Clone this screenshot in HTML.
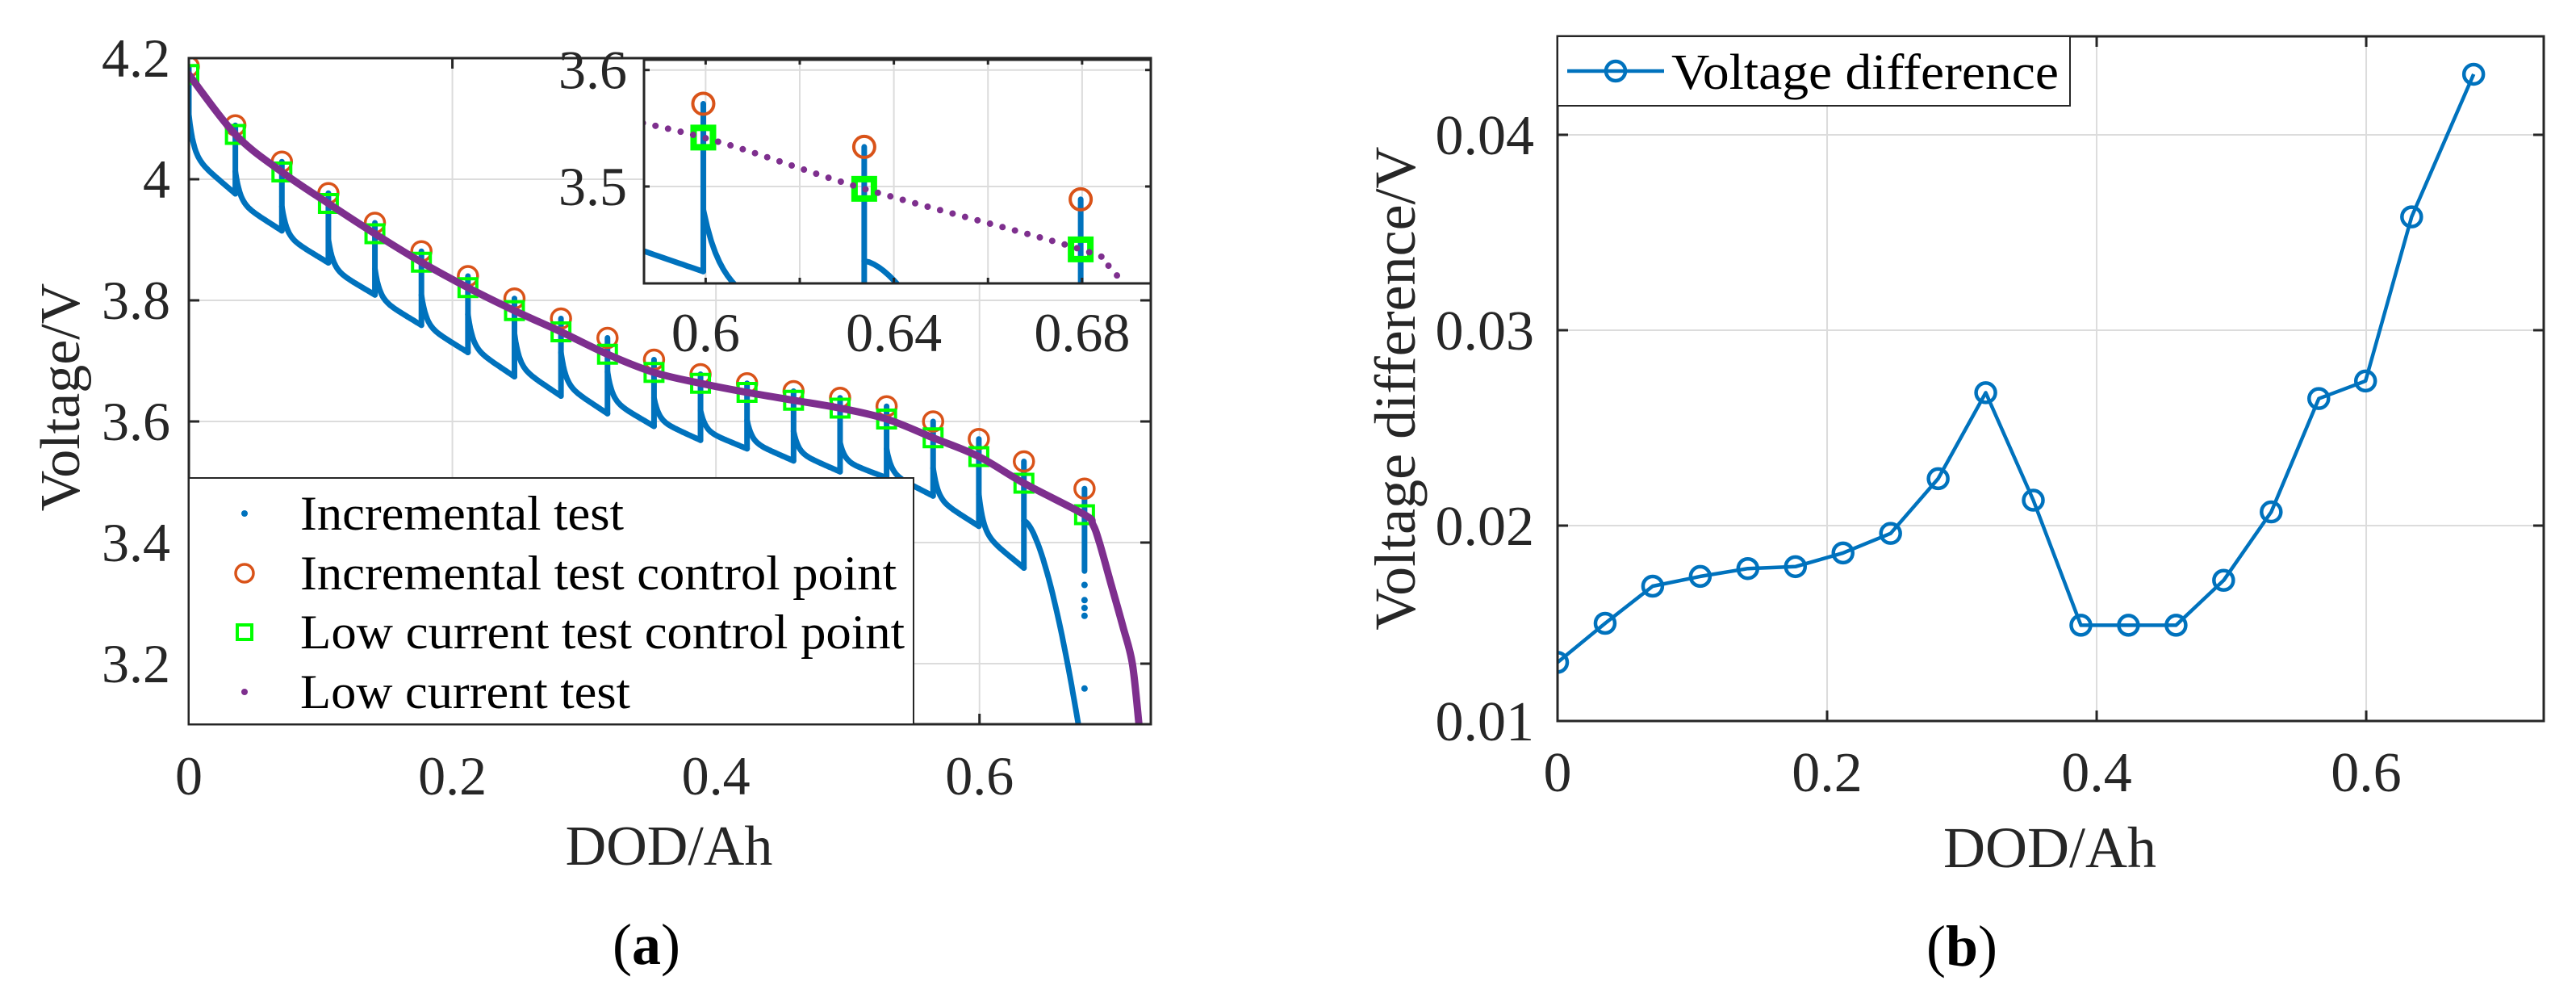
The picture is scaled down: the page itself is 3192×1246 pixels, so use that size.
<!DOCTYPE html>
<html><head><meta charset="utf-8"><style>
html,body{margin:0;padding:0;background:#fff}
svg{display:block}
text{font-family:"Liberation Serif","Times New Roman",serif}
</style></head><body>
<svg id="fig" xmlns="http://www.w3.org/2000/svg" width="3192" height="1246" viewBox="0 0 3192 1246">
<defs>
<clipPath id="clipA"><rect x="234" y="72" width="1192" height="825"/></clipPath>
<clipPath id="clipI"><rect x="798" y="73" width="628" height="278"/></clipPath>
<clipPath id="clipB"><rect x="1930" y="45" width="1222" height="848"/></clipPath>
</defs>
<g id="panelA"></g>
<g id="panelB"></g>
</svg>
<script>
// ---- Data (panel a) ----
const ctrlX = [0,0.0353,0.0706,0.1059,0.1412,0.1765,0.2118,0.2471,0.2824,0.3177,0.353,0.3883,0.4236,0.4589,0.4942,0.5295,0.5648,0.5995,0.6337,0.6797];
const incV  = [4.186,4.089,4.029,3.977,3.928,3.881,3.840,3.803,3.770,3.738,3.702,3.678,3.663,3.650,3.639,3.625,3.600,3.571,3.534,3.489];
const lowV  = [4.173,4.074,4.012,3.960,3.910,3.863,3.821,3.783,3.748,3.711,3.681,3.663,3.648,3.635,3.622,3.604,3.573,3.542,3.498,3.446];
const segStart = [4.107,4.013,3.955,3.900,3.852,3.809,3.777,3.745,3.714,3.682,3.639,3.618,3.602,3.584,3.565,3.555,3.523,3.480,3.436];
const segEnd   = [3.976,3.915,3.862,3.809,3.759,3.714,3.674,3.642,3.613,3.592,3.569,3.555,3.535,3.517,3.507,3.477,3.427,3.358,3.100];
const segEndX  = [0.0353,0.0706,0.1059,0.1412,0.1765,0.2118,0.2471,0.2824,0.3177,0.353,0.3883,0.4236,0.4589,0.4942,0.5295,0.5648,0.5995,0.6337,0.675];
const lastDrop = [3.353,3.279];
const lastDots = [3.330,3.305,3.292,3.279,3.159];
const tailX = [0.686,0.691,0.700,0.709,0.716,0.721];
const tailV = [3.430,3.400,3.330,3.260,3.200,3.100];
const aXTicks = [0,0.2,0.4,0.6];
const aXLabels = ["0","0.2","0.4","0.6"];
const aYTicks = [3.2,3.4,3.6,3.8,4.0,4.2];
const aYLabels = ["3.2","3.4","3.6","3.8","4","4.2"];
const iXTicks = [0.6,0.62,0.64,0.66,0.68];
const iXLabels = ["0.6","","0.64","","0.68"];
const iYTicks = [3.5,3.6];
const iYLabels = ["3.5","3.6"];
// ---- Data (panel b) ----
const diffX = ctrlX.slice();
const diffV = [0.0130,0.0150,0.0169,0.0174,0.0178,0.0179,0.0186,0.0196,0.0224,0.0268,0.0213,0.0149,0.0149,0.0149,0.0172,0.0207,0.0265,0.0274,0.0358,0.0431];
const bXTicks = [0,0.2,0.4,0.6];
const bXLabels = ["0","0.2","0.4","0.6"];
const bYTicks = [0.01,0.02,0.03,0.04];
const bYLabels = ["0.01","0.02","0.03","0.04"];

const NS="http://www.w3.org/2000/svg";
function mk(tag, attrs, parent){const e=document.createElementNS(NS,tag);for(const k in attrs)e.setAttribute(k,attrs[k]);parent.appendChild(e);return e;}
function lin(d0,d1,r0,r1){return v=>r0+(v-d0)/(d1-d0)*(r1-r0);}
function crPath(pts){let d="M"+pts[0][0]+","+pts[0][1];for(let i=0;i<pts.length-1;i++){const p0=pts[Math.max(0,i-1)],p1=pts[i],p2=pts[i+1],p3=pts[Math.min(pts.length-1,i+2)];const c1x=p1[0]+(p2[0]-p0[0])/6,c1y=p1[1]+(p2[1]-p0[1])/6,c2x=p2[0]-(p3[0]-p1[0])/6,c2y=p2[1]-(p3[1]-p1[1])/6;d+=" C"+c1x+","+c1y+" "+c2x+","+c2y+" "+p2[0]+","+p2[1];}return d;}

function drawSeries(g, X, Y, opt){
  const blue = mk('g',{},g);
  
  
  for(let i=0;i<segStart.length;i++){
    const x0=ctrlX[i], x1=segEndX[i], s=segStart[i], e=segEnd[i];
    const pts=[];
    for(let k=0;k<=40;k++){const t=k/40;let f;
      if(i===segStart.length-1){f=Math.pow(t,1.6);}else{f=0.5*(1-Math.exp(-t/0.1))/(1-Math.exp(-1/0.1))+0.5*t;}
      pts.push(X(x0+(x1-x0)*t).toFixed(1)+","+Y(s-(s-e)*f).toFixed(1));}
    const pl=mk('polyline',{points:pts.join(" "),fill:"none",stroke:"#0072BD","stroke-width":opt.bw,"stroke-linecap":"round","stroke-dasharray":opt.bdash},blue);
    
    
    const lo = i===0 ? s : Math.min(s, segEnd[i-1]);
    const vl=mk('line',{x1:X(x0),x2:X(x0),y1:Y(incV[i]),y2:Y(lo),stroke:"#0072BD","stroke-width":opt.bw,"stroke-linecap":"round"},blue);
    
    
  }
  const xl=ctrlX[ctrlX.length-1];
  const vl=mk('line',{x1:X(xl),x2:X(xl),y1:Y(incV[incV.length-1]),y2:Y(lastDrop[0]),stroke:"#0072BD","stroke-width":opt.bw,"stroke-linecap":"round"},blue);
  
  
  lastDots.forEach(v=>{const c=mk('circle',{cx:X(xl),cy:Y(v),r:opt.bw/2+0.5,fill:"#0072BD"},blue);
    
    });
  ctrlX.forEach((x,i)=>{const c=mk('circle',{cx:X(x),cy:Y(incV[i]),r:opt.cr,fill:"none",stroke:"#D95319","stroke-width":opt.cs},g);
    
    });
  ctrlX.forEach((x,i)=>{const r=mk('rect',{x:X(x)-opt.sq/2,y:Y(lowV[i])-opt.sq/2,width:opt.sq,height:opt.sq,fill:"none",stroke:"#00FF00","stroke-width":opt.ss},g);
    
    });
  const pts=[];ctrlX.forEach((x,i)=>pts.push([X(x),Y(lowV[i])]));tailX.forEach((x,i)=>pts.push([X(x),Y(tailV[i])]));
  const p=mk('path',{d:crPath(pts),fill:"none",stroke:"#7E2F8E","stroke-width":opt.pw,"stroke-linecap":"round","stroke-dasharray":opt.pdash},g);
  
  
}

function txt(parent, s, x, y, size, anchor, name, extra){
  const t=mk('text',Object.assign({x:x,y:y,"font-size":size,"text-anchor":anchor||"middle",fill:"#262626"},extra||{}),parent);
  t.textContent=s;
  
  
  return t;
}

(function(){
  const g=document.getElementById('panelA');
  const L=234,R=1426,T=72,B=897;
  const X=lin(0,0.73,L,R), Y=lin(3.1,4.2,B,T);
  const grid=mk('g',{},g);
  
  
  aXTicks.forEach(v=>mk('line',{x1:X(v),x2:X(v),y1:T,y2:B,stroke:"#dcdcdc","stroke-width":2},grid));
  aYTicks.forEach(v=>mk('line',{x1:L,x2:R,y1:Y(v),y2:Y(v),stroke:"#dcdcdc","stroke-width":2},grid));
  const plot=mk('g',{"clip-path":"url(#clipA)"},g);
  
  
  drawSeries(plot,X,Y,{bw:7,bdash:"none",cr:12,cs:3.5,sq:22,ss:4,pw:9,pdash:"none"});
  const ax=mk('g',{},g);
  
  
  mk('rect',{x:L,y:T,width:R-L,height:B-T,fill:"none",stroke:"#262626","stroke-width":3},ax);
  aXTicks.forEach(v=>{mk('line',{x1:X(v),x2:X(v),y1:B,y2:B-13,stroke:"#262626","stroke-width":3},ax);mk('line',{x1:X(v),x2:X(v),y1:T,y2:T+13,stroke:"#262626","stroke-width":3},ax);});
  aYTicks.forEach(v=>{mk('line',{x1:L,x2:L+13,y1:Y(v),y2:Y(v),stroke:"#262626","stroke-width":3},ax);mk('line',{x1:R,x2:R-13,y1:Y(v),y2:Y(v),stroke:"#262626","stroke-width":3},ax);});
  aXTicks.forEach((v,i)=>txt(g,aXLabels[i],X(v),984,68,"middle","x-tick-label"));
  aYTicks.forEach((v,i)=>txt(g,aYLabels[i],211,Y(v)+23,68,"end","y-tick-label"));
  txt(g,"DOD/Ah",829,1071,70,"middle","x-axis-title-a");
  txt(g,"Voltage/V",98,492,70,"middle","y-axis-title-a",{transform:"rotate(-90 98 492)"});
  const cap=txt(g,"",801,1194,72,"middle","caption-a",{fill:"#000"});
  cap.innerHTML='(<tspan font-weight="bold">a</tspan>)';

  const lg=mk('g',{},g);
  
  
  mk('rect',{x:L,y:592,width:1132-L,height:B-592,fill:"#fff",stroke:"#262626","stroke-width":2},lg);
  const ly=[636,710,783,857];
  const names=["Incremental test","Incremental test control point","Low current test control point","Low current test"];
  const widths=[401,739,749,409];
  const mx=303;
  mk('circle',{cx:mx,cy:ly[0],r:4,fill:"#0072BD"},lg);
  mk('circle',{cx:mx,cy:ly[1],r:11,fill:"none",stroke:"#D95319","stroke-width":3.5},lg);
  mk('rect',{x:mx-9,y:ly[2]-9,width:18,height:18,fill:"none",stroke:"#00FF00","stroke-width":4},lg);
  mk('circle',{cx:mx,cy:ly[3],r:4,fill:"#7E2F8E"},lg);
  names.forEach((n,i)=>txt(lg,n,372,ly[i]+20,60,"start","legend-entry",{fill:"#000",textLength:widths[i],lengthAdjust:"spacingAndGlyphs"}));

  const IL=798,IR=1426,IT=73,IB=351;
  const XI=lin(0.5869,0.6946,IL,IR), YI=lin(3.4168,3.6095,IB,IT);
  const ins=mk('g',{},g);
  
  
  mk('rect',{x:IL,y:IT,width:IR-IL,height:IB-IT,fill:"#fff"},ins);
  iXTicks.forEach(v=>mk('line',{x1:XI(v),x2:XI(v),y1:IT,y2:IB,stroke:"#dcdcdc","stroke-width":2},ins));
  iYTicks.forEach(v=>mk('line',{x1:IL,x2:IR,y1:YI(v),y2:YI(v),stroke:"#dcdcdc","stroke-width":2},ins));
  const ip=mk('g',{"clip-path":"url(#clipI)"},ins);
  
  
  drawSeries(ip,XI,YI,{bw:7,bdash:"none",cr:13,cs:4,sq:24,ss:8,pw:8,pdash:"0 16"});
  mk('rect',{x:IL,y:IT,width:IR-IL,height:IB-IT,fill:"none",stroke:"#262626","stroke-width":3},ins);
  mk('line',{x1:IL,x2:IR,y1:IT,y2:IT,stroke:"#262626","stroke-width":5},ins);
  iXTicks.forEach(v=>{mk('line',{x1:XI(v),x2:XI(v),y1:IB,y2:IB-7,stroke:"#262626","stroke-width":3},ins);mk('line',{x1:XI(v),x2:XI(v),y1:IT,y2:IT+7,stroke:"#262626","stroke-width":3},ins);});
  iYTicks.forEach(v=>{mk('line',{x1:IL,x2:IL+7,y1:YI(v),y2:YI(v),stroke:"#262626","stroke-width":3},ins);mk('line',{x1:IR,x2:IR-7,y1:YI(v),y2:YI(v),stroke:"#262626","stroke-width":3},ins);});
  iXTicks.forEach((v,i)=>{if(iXLabels[i])txt(ins,iXLabels[i],XI(v),435,68,"middle","inset-x-tick-label");});
  iYTicks.forEach((v,i)=>txt(ins,iYLabels[i],777,YI(v)+23,68,"end","inset-y-tick-label"));
})();

(function(){
  const g=document.getElementById('panelB');
  const L=1930,R=3152,T=45,B=893;
  const X=lin(0,0.7317,L,R), Y=lin(0.01,0.04504,B,T);
  const grid=mk('g',{},g);
  
  
  bXTicks.forEach(v=>mk('line',{x1:X(v),x2:X(v),y1:T,y2:B,stroke:"#dcdcdc","stroke-width":2},grid));
  bYTicks.forEach(v=>mk('line',{x1:L,x2:R,y1:Y(v),y2:Y(v),stroke:"#dcdcdc","stroke-width":2},grid));
  const plot=mk('g',{"clip-path":"url(#clipB)"},g);
  
  
  const pts=diffX.map((x,i)=>X(x).toFixed(1)+","+Y(diffV[i]).toFixed(1)).join(" ");
  const pl=mk('polyline',{points:pts,fill:"none",stroke:"#0072BD","stroke-width":4.5,"stroke-linejoin":"round"},plot);
  
  
  diffX.forEach((x,i)=>{const c=mk('circle',{cx:X(x),cy:Y(diffV[i]),r:12,fill:"none",stroke:"#0072BD","stroke-width":4.5},plot);
    
    });
  const ax=mk('g',{},g);
  
  
  mk('rect',{x:L,y:T,width:R-L,height:B-T,fill:"none",stroke:"#262626","stroke-width":3},ax);
  bXTicks.forEach(v=>{mk('line',{x1:X(v),x2:X(v),y1:B,y2:B-13,stroke:"#262626","stroke-width":3},ax);mk('line',{x1:X(v),x2:X(v),y1:T,y2:T+13,stroke:"#262626","stroke-width":3},ax);});
  bYTicks.forEach(v=>{mk('line',{x1:L,x2:L+13,y1:Y(v),y2:Y(v),stroke:"#262626","stroke-width":3},ax);mk('line',{x1:R,x2:R-13,y1:Y(v),y2:Y(v),stroke:"#262626","stroke-width":3},ax);});
  bXTicks.forEach((v,i)=>txt(g,bXLabels[i],X(v),980,70,"middle","x-tick-label-b"));
  bYTicks.forEach((v,i)=>txt(g,bYLabels[i],1901,Y(v)+24,70,"end","y-tick-label-b"));
  txt(g,"DOD/Ah",2540,1074,72,"middle","x-axis-title-b");
  txt(g,"Voltage difference/V",1753,481,72,"middle","y-axis-title-b",{transform:"rotate(-90 1753 481)"});
  const cap=txt(g,"",2431,1196,72,"middle","caption-b",{fill:"#000"});
  cap.innerHTML='(<tspan font-weight="bold">b</tspan>)';
  const lg=mk('g',{},g);
  
  
  mk('rect',{x:L,y:T,width:2565-L,height:131-T,fill:"#fff",stroke:"#262626","stroke-width":2},lg);
  mk('line',{x1:1942,x2:2062,y1:88,y2:88,stroke:"#0072BD","stroke-width":4.5},lg);
  mk('circle',{cx:2002,cy:88,r:12,fill:"none",stroke:"#0072BD","stroke-width":4.5},lg);
  txt(lg,"Voltage difference",2071,110,62,"start","legend-entry",{fill:"#000",textLength:480,lengthAdjust:"spacingAndGlyphs"});
})();
</script>
</body></html>
